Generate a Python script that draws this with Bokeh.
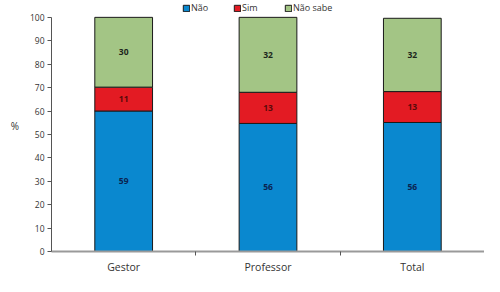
from bokeh.plotting import figure
from bokeh.models import ColumnDataSource, FixedTicker, Legend, LegendItem, Range1d
from bokeh.core.properties import value
from bokeh.embed import file_html
from bokeh.resources import INLINE

categories = ["Gestor", "Professor", "Total"]
series = ["Não", "Sim", "Não sabe"]
# segment heights (%)
nao = [60.0, 54.7, 55.1]
sim = [10.2, 13.3, 13.2]
nao_sabe = [29.8, 32.0, 31.3]
# printed labels
nao_lbl = ["59", "56", "56"]
sim_lbl = ["11", "13", "13"]
nao_sabe_lbl = ["30", "32", "32"]
y_ticks = [0, 10, 20, 30, 40, 50, 60, 70, 80, 90, 100]

colors = ["#0A88CF", "#E31B23", "#A3C585"]
label_colors = ["#0B2350", "#5A0A0A", "#1C261C"]
FONT = "Open Sans"

W, H = 484, 276
BL, BR, BT, BB = 51, 0, 0, 25
FRAME_H = H - BT - BB

xs = [i + 0.5 for i in range(len(categories))]
base1 = [0] * len(categories)
base2 = nao
base3 = [a + b for a, b in zip(nao, sim)]

src = ColumnDataSource(dict(x=xs, nao=nao, sim=sim, nao_sabe=nao_sabe))

p = figure(width=W, height=H, output_backend="svg", toolbar_location=None,
           x_range=Range1d(0, len(categories)), y_range=Range1d(0, 107.2),
           min_border_left=BL, min_border_right=BR, min_border_top=BT, min_border_bottom=BB)
p.outline_line_color = None
p.grid.visible = False

rs = p.vbar_stack(["nao", "sim", "nao_sabe"], x="x", width=0.4, color=colors,
                  line_color="#1a1a1a", line_width=1, source=src)

# value labels at segment centres
for lbls, lo, hi_vals, col in [
    (nao_lbl, base1, nao, label_colors[0]),
    (sim_lbl, base2, sim, label_colors[1]),
    (nao_sabe_lbl, base3, nao_sabe, label_colors[2]),
]:
    ys = [lo[i] + hi_vals[i] / 2 for i in range(len(categories))]
    p.text(x=xs, y=ys, text=lbls, text_align="center", text_baseline="middle",
           text_font=value(FONT), text_font_size="8.5px", text_font_style="bold",
           text_color=col)

# y axis
p.yaxis.ticker = FixedTicker(ticks=y_ticks)
p.yaxis.bounds = (0, 100)
p.yaxis.axis_line_color = "#555555"
p.yaxis.major_tick_line_color = "#555555"
p.yaxis.major_tick_in = 0
p.yaxis.major_tick_out = 4
p.yaxis.minor_tick_line_color = None
p.yaxis.major_label_text_font = FONT
p.yaxis.major_label_text_font_size = "8.5px"
p.yaxis.major_label_text_color = "#333333"
p.yaxis.major_label_standoff = 3
p.yaxis.axis_label = "%"
p.yaxis.axis_label_orientation = "horizontal"
p.yaxis.axis_label_text_font = FONT
p.yaxis.axis_label_text_font_style = "normal"
p.yaxis.axis_label_text_font_size = "10px"
p.yaxis.axis_label_text_color = "#333333"
p.yaxis.axis_label_standoff = 8

# x axis: labels at centres, ticks at boundaries (minor ticks)
p.xaxis.ticker = FixedTicker(ticks=xs, minor_ticks=[i + 1 for i in range(len(categories))])
p.xaxis.major_label_overrides = {x: c for x, c in zip(xs, categories)}
p.xaxis.axis_line_color = "#9a9a9a"
p.xaxis.axis_line_width = 2
p.xaxis.major_tick_line_color = None
p.xaxis.major_tick_out = 0
p.xaxis.major_tick_in = 0
p.xaxis.minor_tick_line_color = "#555555"
p.xaxis.minor_tick_in = 0
p.xaxis.minor_tick_out = 4
p.xaxis.major_label_text_font = FONT
p.xaxis.major_label_text_font_size = "10.5px"
p.xaxis.major_label_text_color = "#333333"
p.xaxis.major_label_standoff = 4

LEG_H = 14
legend = Legend(items=[LegendItem(label=s, renderers=[r]) for s, r in zip(series, rs)],
                orientation="horizontal", location=(131, FRAME_H - LEG_H),
                glyph_width=8, glyph_height=8, label_standoff=1, spacing=22,
                padding=0, margin=0, label_text_font=FONT, label_text_font_size="9px",
                label_text_color="#333333", label_height=9, border_line_color=None,
                background_fill_alpha=0)
p.add_layout(legend)

open("out.html", "w").write(file_html(p, INLINE))
